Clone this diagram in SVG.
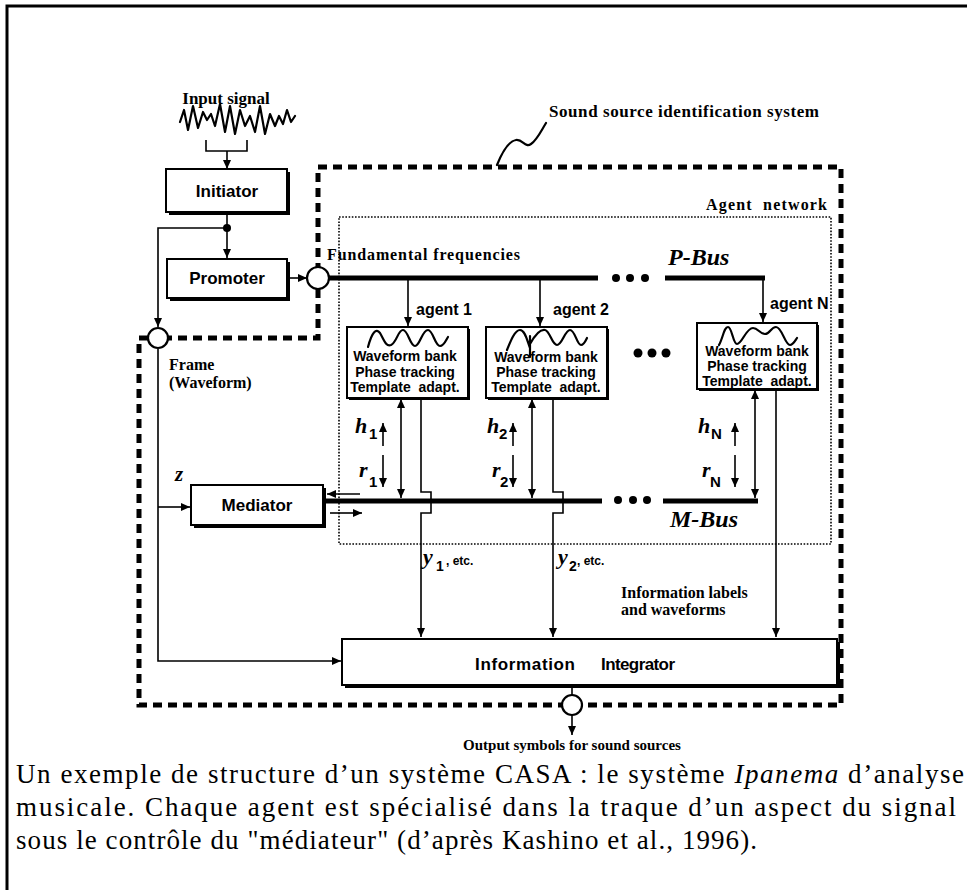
<svg xmlns="http://www.w3.org/2000/svg" width="967" height="890" viewBox="0 0 967 890">
<defs>
<marker id="ah" markerWidth="9" markerHeight="8" refX="9" refY="4" orient="auto" markerUnits="userSpaceOnUse"><path d="M0,0 L9,4 L0,8 z" fill="#000"/></marker>
<marker id="as" markerWidth="9" markerHeight="8" refX="0" refY="4" orient="auto" markerUnits="userSpaceOnUse"><path d="M9,0 L0,4 L9,8 z" fill="#000"/></marker>
<style>
.box{fill:#fff;stroke:#000;stroke-width:2}
.sh{fill:#000}
.sans{font-family:"Liberation Sans",Arial,sans-serif;font-weight:bold;fill:#000}
.ser{font-family:"Liberation Serif","Times New Roman",serif;font-weight:bold;fill:#000}
.it{font-family:"Liberation Serif","Times New Roman",serif;font-weight:bold;font-style:italic;fill:#000}
.cap{font-family:"Liberation Serif","Times New Roman",serif;font-size:27px;fill:#000}
.ln{fill:none;stroke:#000;stroke-width:1.6}
.bus{fill:none;stroke:#000;stroke-width:5}
.dash{fill:none;stroke:#000;stroke-width:5;stroke-dasharray:9 6}
.dot{fill:none;stroke:#000;stroke-width:1.6;stroke-dasharray:1.6 1.6}
.wave{fill:none;stroke:#000;stroke-width:2.2;stroke-linejoin:round;stroke-linecap:round}
.circ{fill:#fff;stroke:#000;stroke-width:2.2}
</style>
</defs>

<!-- page frame -->
<path d="M7,890 V6 H967" fill="none" stroke="#000" stroke-width="3"/>

<!-- system boundaries -->
<g id="system-boundary">
<path class="dash" d="M148,338 H139 V705 H841 V167 H318 V267"/>
<path class="dash" d="M318,289 V338 H168"/>
<path class="wave" d="M497,165 C503,150 509,141 516,140 C523,139 525,148 531,144 C537,140 541,131 546,123"/>
<text class="ser" x="549" y="117" font-size="17" textLength="270">Sound source identification system</text>
</g>
<g id="agent-network">
<rect class="dot" x="339" y="217" width="492" height="327"/>
<text class="ser" x="706" y="210" font-size="16" textLength="121" xml:space="preserve">Agent  network</text>
</g>

<!-- input -->
<g id="input-signal">
<text class="ser" x="226" y="104" font-size="17" text-anchor="middle">Input signal</text>
<path class="wave" stroke-width="2.8" d="M180,122 L184,110 L188,130 L193,106 L198,128 L203,112 L207,120 L211,114 L215,126 L220,104 L225,132 L230,106 L235,134 L240,110 L245,126 L250,116 L255,132 L260,106 L265,134 L270,114 L275,126 L279,116 L283,124 L287,110 L291,122 L295,116"/>
</g>

<!-- connectors -->
<g id="connectors">
<path class="ln" d="M206,140 V151 H247 V140"/>
<line class="ln" x1="227" y1="151" x2="227" y2="169" marker-end="url(#ah)"/>
<line class="ln" x1="227" y1="212" x2="227" y2="258" marker-end="url(#ah)"/>
<circle cx="227" cy="228" r="4" fill="#000"/>
<path class="ln" d="M227,228 H158 V327" marker-end="url(#ah)"/>
<line class="ln" x1="289" y1="278" x2="307" y2="278" marker-end="url(#ah)"/>
<!-- P-Bus -->
<line class="bus" x1="329" y1="278" x2="598" y2="278"/>
<line class="bus" x1="665" y1="278" x2="765" y2="278"/>
<circle cx="616" cy="278" r="4" fill="#000"/><circle cx="630" cy="278" r="4" fill="#000"/><circle cx="645" cy="278" r="4" fill="#000"/>
<line class="ln" x1="408" y1="278" x2="408" y2="326" marker-end="url(#ah)"/>
<line class="ln" x1="540" y1="278" x2="540" y2="326" marker-end="url(#ah)"/>
<line class="ln" x1="763" y1="278" x2="763" y2="322" marker-end="url(#ah)"/>
<!-- M-Bus -->
<line class="bus" x1="323" y1="501" x2="602" y2="501"/>
<line class="bus" x1="663" y1="501" x2="758" y2="501"/>
<circle cx="618" cy="500" r="4" fill="#000"/><circle cx="633" cy="500" r="4" fill="#000"/><circle cx="647" cy="500" r="4" fill="#000"/>
<!-- agent 1 -->
<line class="ln" x1="401" y1="399" x2="401" y2="498" marker-start="url(#as)" marker-end="url(#ah)"/>
<path class="ln" d="M421,399 V492 H431 V513 H421 V637" marker-end="url(#ah)"/>
<!-- agent 2 -->
<line class="ln" x1="532" y1="399" x2="532" y2="498" marker-start="url(#as)" marker-end="url(#ah)"/>
<path class="ln" d="M553,399 V492 H563 V513 H553 V637" marker-end="url(#ah)"/>
<!-- agent N -->
<line class="ln" x1="755" y1="390" x2="755" y2="498" marker-start="url(#as)" marker-end="url(#ah)"/>
<line class="ln" x1="776" y1="390" x2="776" y2="637" marker-end="url(#ah)"/>
<!-- small h/r arrows -->
<line class="ln" x1="383" y1="446" x2="383" y2="423" marker-end="url(#ah)"/>
<line class="ln" x1="383" y1="455" x2="383" y2="487" marker-end="url(#ah)"/>
<line class="ln" x1="513" y1="446" x2="513" y2="423" marker-end="url(#ah)"/>
<line class="ln" x1="513" y1="455" x2="513" y2="487" marker-end="url(#ah)"/>
<line class="ln" x1="735" y1="446" x2="735" y2="423" marker-end="url(#ah)"/>
<line class="ln" x1="735" y1="455" x2="735" y2="487" marker-end="url(#ah)"/>
<!-- mediator arrows -->
<line class="ln" x1="360" y1="494" x2="327" y2="494" marker-end="url(#ah)"/>
<line class="ln" x1="330" y1="513" x2="362" y2="513" marker-end="url(#ah)"/>
<!-- left frame line -->
<path class="ln" d="M158,349 V661 H341" marker-end="url(#ah)"/>
<line class="ln" x1="158" y1="507" x2="190" y2="507" marker-end="url(#ah)"/>
<!-- output -->
<line class="ln" x1="572" y1="687" x2="572" y2="695"/>
<line class="ln" x1="572" y1="715" x2="572" y2="735" marker-end="url(#ah)"/>
</g>

<!-- junction circles -->
<g id="junction-frame"><circle class="circ" cx="158" cy="338" r="10"/></g>
<g id="junction-promoter"><circle class="circ" cx="318" cy="278" r="11"/></g>
<g id="junction-output"><circle class="circ" cx="572" cy="705" r="10"/></g>

<!-- nodes -->
<g id="initiator">
<rect class="sh" x="169" y="172" width="121" height="43"/>
<rect class="box" x="166" y="169" width="121" height="43"/>
<text class="sans" x="227" y="197" font-size="17" text-anchor="middle">Initiator</text>
</g>
<g id="promoter">
<rect class="sh" x="170" y="262" width="120" height="39"/>
<rect class="box" x="167" y="259" width="120" height="39"/>
<text class="sans" x="227" y="284" font-size="17" text-anchor="middle">Promoter</text>
</g>
<g id="mediator">
<rect class="sh" x="194" y="488" width="132" height="40"/>
<rect class="box" x="191" y="485" width="132" height="40"/>
<text class="sans" x="257" y="511" font-size="17" text-anchor="middle">Mediator</text>
</g>
<g id="integrator">
<rect class="sh" x="345" y="642" width="495" height="46"/>
<rect class="box" x="342" y="639" width="495" height="46"/>
<text class="sans" x="475" y="670" font-size="17" textLength="100">Information</text>
<text class="sans" x="601" y="670" font-size="17" textLength="74">Integrator</text>
</g>

<g id="agent1">
<rect class="sh" x="349" y="329" width="121" height="71"/>
<rect class="box" x="347" y="327" width="121" height="71" stroke-width="2.5"/>
<path class="wave" d="M368,347 C372,332 376,328 380,333 C384,340 386,347 391,345 C397,342 398,330 403,330 C408,330 410,346 415,346 C420,346 422,330 428,330 C433,330 435,346 440,346 C444,346 446,340 448,337"/>
<text class="sans" x="405" y="361" font-size="14" text-anchor="middle">Waveform bank</text>
<text class="sans" x="405" y="377" font-size="14" text-anchor="middle">Phase tracking</text>
<text class="sans" x="405" y="392" font-size="14" text-anchor="middle" xml:space="preserve">Template  adapt.</text>
<text class="sans" x="416" y="315" font-size="16">agent 1</text>
</g>
<g id="agent2">
<rect class="sh" x="488" y="329" width="121" height="71"/>
<rect class="box" x="486" y="327" width="121" height="71" stroke-width="2.5"/>
<path class="wave" d="M507,350 C511,340 515,330 520,330 C525,330 527,340 530,348 M530,336 L530,357 M530,344 C535,335 540,329 545,330 C550,331 552,345 557,345 C562,345 565,330 570,330 C575,330 577,345 581,345 C584,345 586,340 587,338"/>
<text class="sans" x="546" y="362" font-size="14" text-anchor="middle">Waveform bank</text>
<text class="sans" x="546" y="377" font-size="14" text-anchor="middle">Phase tracking</text>
<text class="sans" x="546" y="392" font-size="14" text-anchor="middle" xml:space="preserve">Template  adapt.</text>
<text class="sans" x="553" y="315" font-size="16">agent 2</text>
</g>
<g id="agent-dots">
<circle cx="638" cy="353" r="4.5" fill="#000"/><circle cx="652" cy="353" r="4.5" fill="#000"/><circle cx="666" cy="353" r="4.5" fill="#000"/>
</g>
<g id="agentN">
<rect class="sh" x="699" y="325" width="120" height="66"/>
<rect class="box" x="697" y="323" width="120" height="66" stroke-width="2.5"/>
<path class="wave" d="M719,345 C723,338 724,327 728,327 C732,327 733,344 737,344 C742,344 746,328 753,328 C758,328 760,334 765,334 C770,334 771,327 776,327 C782,327 785,345 790,345 C793,345 795,341 797,338"/>
<text class="sans" x="757" y="356" font-size="14" text-anchor="middle">Waveform bank</text>
<text class="sans" x="757" y="371" font-size="14" text-anchor="middle">Phase tracking</text>
<text class="sans" x="757" y="386" font-size="14" text-anchor="middle" xml:space="preserve">Template  adapt.</text>
<text class="sans" x="770" y="309" font-size="16">agent N</text>
</g>

<!-- labels -->
<g id="labels">
<text class="ser" x="327" y="260" font-size="16" textLength="193">Fundamental frequencies</text>
<text class="it" x="668" y="265" font-size="24">P-Bus</text>
<text class="it" x="670" y="527" font-size="24">M-Bus</text>
<text class="ser" x="169" y="370" font-size="16">Frame</text>
<text class="ser" x="169" y="388" font-size="16">(Waveform)</text>
<text class="it" x="175" y="481" font-size="21">z</text>
<text class="ser" x="621" y="598" font-size="16">Information labels</text>
<text class="ser" x="621" y="615" font-size="16">and waveforms</text>
<text class="ser" x="572" y="750" font-size="15" text-anchor="middle">Output symbols for sound sources</text>
<text class="it" x="355" y="433" font-size="22">h</text><text class="sans" x="369" y="439" font-size="15">1</text>
<text class="it" x="359" y="477" font-size="22">r</text><text class="sans" x="369" y="487" font-size="15">1</text>
<text class="it" x="487" y="433" font-size="22">h</text><text class="sans" x="499" y="439" font-size="15">2</text>
<text class="it" x="492" y="477" font-size="22">r</text><text class="sans" x="500" y="487" font-size="15">2</text>
<text class="it" x="698" y="433" font-size="22">h</text><text class="sans" x="711" y="439" font-size="15">N</text>
<text class="it" x="702" y="477" font-size="22">r</text><text class="sans" x="710" y="487" font-size="15">N</text>
<text class="it" x="423" y="564" font-size="22">y</text><text class="sans" x="436" y="571" font-size="14">1</text><text class="sans" x="446" y="565" font-size="12">, etc.</text>
<text class="it" x="558" y="564" font-size="22">y</text><text class="sans" x="569" y="571" font-size="14">2</text><text class="sans" x="577" y="565" font-size="12">, etc.</text>
</g>

<!-- caption -->
<g id="caption">
<text class="cap" x="16" y="783" textLength="948">Un exemple de structure d’un système CASA : le système <tspan font-style="italic">Ipanema</tspan> d’analyse</text>
<text class="cap" x="16" y="816" textLength="940">musicale. Chaque agent est spécialisé dans la traque d’un aspect du signal</text>
<text class="cap" x="16" y="849" textLength="741">sous le contrôle du "médiateur" (d’après Kashino et al., 1996).</text>
</g>
</svg>
